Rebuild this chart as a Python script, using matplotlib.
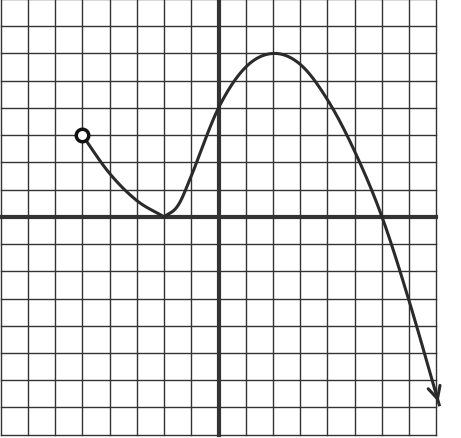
import matplotlib
matplotlib.use("Agg")
import matplotlib.pyplot as plt
import numpy as np

# waypoints (grid units)
left_x = [-5, -4, -3, -2]
left_y = [3, 1.6, 0.6, 0]
right_x = [-2, -1.5, -1, 0, 1, 2, 3, 4, 5, 6, 7, 8.1]
right_y = [0, 0.4, 1.5, 4, 5.5, 6, 5.6, 4.3, 2.4, 0, -3.1, -6.9]
grid_min, grid_max = -8, 8


def catmull(xs, ys, n=30):
    pts = np.column_stack([xs, ys]).astype(float)
    pts = np.vstack([2 * pts[0] - pts[1], pts, 2 * pts[-1] - pts[-2]])
    out = []
    t = np.linspace(0, 1, n)[:, None]
    for i in range(1, len(pts) - 2):
        p0, p1, p2, p3 = pts[i - 1], pts[i], pts[i + 1], pts[i + 2]
        seg = 0.5 * ((2 * p1) + (-p0 + p2) * t + (2 * p0 - 5 * p1 + 4 * p2 - p3) * t ** 2
                     + (-p0 + 3 * p1 - 3 * p2 + p3) * t ** 3)
        out.append(seg)
    out = np.vstack(out)
    return out[:, 0], out[:, 1]


fig = plt.figure(figsize=(4.61, 4.39), dpi=100)
ax = fig.add_axes([0, 0, 1, 1])
ax.set_xlim(-8.02, 8.9)
ax.set_ylim(-8.12, 8.0)
ax.axis("off")

for v in range(grid_min, grid_max + 1):
    ax.plot([v, v], [grid_min, grid_max], color="#333333", lw=1.0)
    ax.plot([grid_min, grid_max], [v, v], color="#333333", lw=1.0)
ax.plot([0, 0], [grid_min, grid_max], color="#333333", lw=3)
ax.plot([grid_min, grid_max], [0, 0], color="#333333", lw=3)

lx, ly = catmull(left_x, left_y)
rx, ry = catmull(right_x, right_y)
ax.plot(lx, ly, color="#2a2a2a", lw=2.2, zorder=3)
ax.plot(rx, ry, color="#2a2a2a", lw=2.2, zorder=3)
ax.annotate("", xy=(rx[-1], ry[-1]), xytext=(rx[-4], ry[-4]),
            arrowprops=dict(arrowstyle="->", color="#2a2a2a", lw=2.2,
                            mutation_scale=22), zorder=4)
ax.plot(left_x[0], left_y[0], "o", ms=9, mfc="white", mec="#111111", mew=2.5, zorder=5)

fig.savefig("out.png", dpi=100, facecolor="white")
